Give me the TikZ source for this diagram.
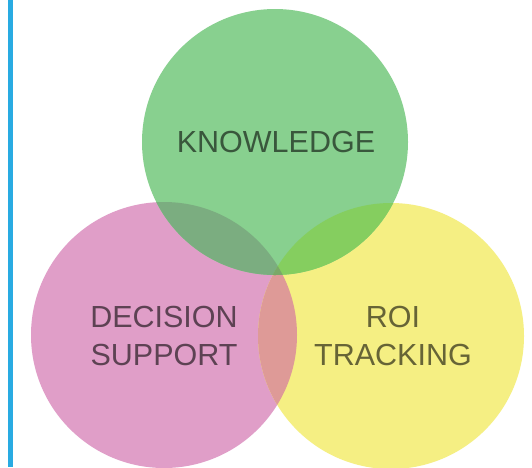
\documentclass[tikz,border=0pt]{standalone}
\usepackage{fontspec}
\setmainfont{Liberation Sans}
\definecolor{bluebar}{HTML}{29ABE2}
\definecolor{cgreen}{HTML}{88D08F}
\definecolor{cpink}{HTML}{E09EC8}
\definecolor{cyellow}{HTML}{F5EF83}
\definecolor{cgp}{HTML}{7BAD80}
\definecolor{cgy}{HTML}{85CE5F}
\definecolor{cpy}{HTML}{DE9A97}
\definecolor{cgpy}{HTML}{7AA868}
\tikzset{
  lbl/.style={font=\fontsize{30.5}{38}\selectfont, text=black, text opacity=0.58, align=center, inner sep=0pt}
}
\begin{document}
\begin{tikzpicture}[x=1pt,y=-1pt]
\useasboundingbox (0,0) rectangle (532,467);
\fill[white] (0,0) rectangle (532,467);
\coordinate (G) at (275,142);
\coordinate (P) at (164,335);
\coordinate (Y) at (391,336);
\def\R{133}
\fill[cpink] (P) circle[radius=\R];
\fill[cyellow] (Y) circle[radius=\R];
\fill[cgreen] (G) circle[radius=\R];
\begin{scope}
  \clip (P) circle[radius=\R];
  \fill[cpy] (Y) circle[radius=\R];
  \fill[cgp] (G) circle[radius=\R];
\end{scope}
\begin{scope}
  \clip (Y) circle[radius=\R];
  \fill[cgy] (G) circle[radius=\R];
\end{scope}
\begin{scope}
  \clip (P) circle[radius=\R];
  \clip (Y) circle[radius=\R];
  \fill[cgpy] (G) circle[radius=\R];
\end{scope}
\fill[bluebar] (8,0) rectangle (13,467);
\node[lbl] (k) at (276,142) {KNOWLEDGE};
\node[lbl] (d) at (164,336) {DECISION\\SUPPORT};
\node[lbl] (r) at (393,336) {ROI\\TRACKING};
\end{tikzpicture}
\end{document}
